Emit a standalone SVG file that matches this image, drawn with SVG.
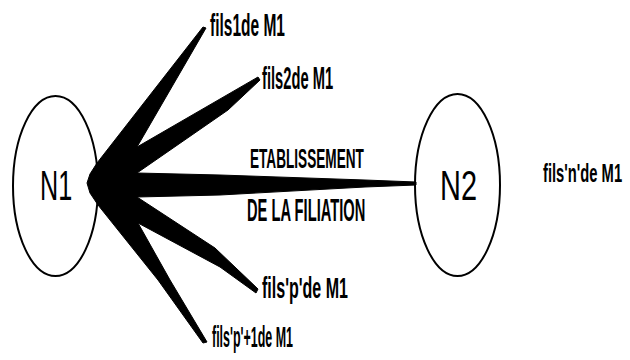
<svg xmlns="http://www.w3.org/2000/svg" width="630" height="360" viewBox="0 0 630 360">
  <style>
    .node { fill: #ffffff; stroke: #000000; stroke-width: 2; }
    .nlabel { font-family: "Liberation Sans", "DejaVu Sans", sans-serif; font-size: 42px; fill: #000; }
    .lbl { font-family: "Liberation Sans", "DejaVu Sans", sans-serif; font-weight: bold; fill: #000; }
    .star { fill: #000000; stroke: #000000; stroke-width: 1; stroke-linejoin: round; }
  </style>
  <rect width="630" height="360" fill="#ffffff"/>
  <g id="N1">
    <ellipse class="node" cx="55.5" cy="186" rx="42.5" ry="90"/>
    <text class="nlabel" transform="translate(40,200) scale(0.6,1)">N1</text>
  </g>
  <g id="N2">
    <ellipse class="node" cx="457.5" cy="185" rx="42.5" ry="91"/>
    <text class="nlabel" transform="translate(440,200) scale(0.69,1)">N2</text>
  </g>
  <g id="connectors">
    <polygon class="star" points="87,183 90,174 97,163 203,27 206,28 137,147 258,77 260,80 228,110 137,173 220,175 365,180 416,182 416,185 365,187 220,195 137,197 215,248 258,289 256,293 220,267 138,223 170,280 207,342 203,343 158,280 98,205 90,193"/>
    <text class="lbl" font-size="28" transform="translate(250,168) scale(0.486,1)">ETABLISSEMENT</text>
    <text class="lbl" font-size="31" transform="translate(247,221) scale(0.474,1)">DE LA FILIATION</text>
  </g>
  <g id="fils1">
    <text class="lbl" font-size="32" transform="translate(210,36) scale(0.485,1)">fils1de M1</text>
  </g>
  <g id="fils2">
    <text class="lbl" font-size="32" transform="translate(262,89) scale(0.46,1)">fils2de M1</text>
  </g>
  <g id="filsn">
    <text class="lbl" font-size="25" transform="translate(543,182) scale(0.59,1)">fils'n'de M1</text>
  </g>
  <g id="filsp">
    <text class="lbl" font-size="29" transform="translate(262,298) scale(0.553,1)">fils'p'de M1</text>
  </g>
  <g id="filsp1">
    <text class="lbl" font-size="30" transform="translate(212,347) scale(0.415,1)">fils'p'+1de M1</text>
  </g>
</svg>
